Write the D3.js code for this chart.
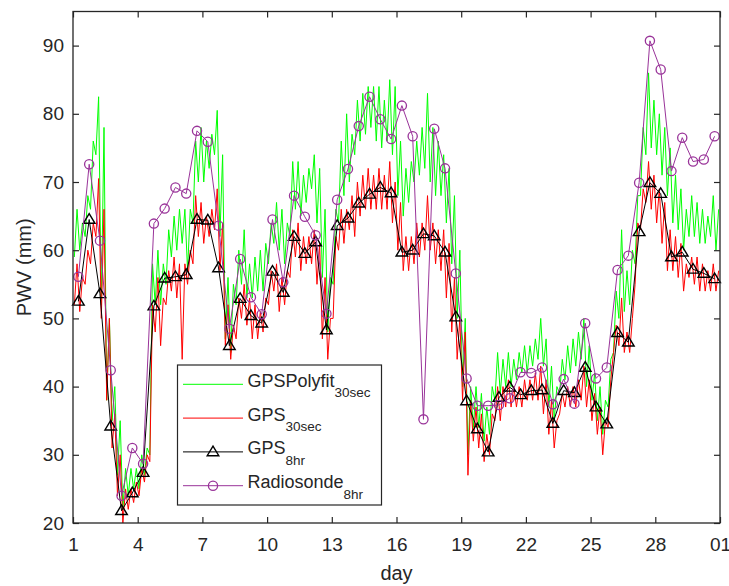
<!DOCTYPE html>
<html>
<head>
<meta charset="utf-8">
<script src="https://cdn.jsdelivr.net/npm/d3@7"></script>
<style>
  body { margin: 0; background: #fff; }
  text { font-family: "Liberation Sans", Arial, sans-serif; fill: #262626; }
</style>
</head>
<body>
<div id="chart"></div>
<script>
// x ticks (day of month, last one is the 1st of next month)
const xTicks = [1, 4, 7, 10, 13, 16, 19, 22, 25, 28, 31];
const yTicks = [20, 30, 40, 50, 60, 70, 80, 90];

// 8-hourly products, one value every half day starting at day 1.25
const gps8hr = [
  52.5, 64.5, 53.6, 34.2, 21.8, 24.4, 27.4, 51.8, 55.9, 56.1, 56.4, 64.5,
  64.4, 57.4, 46.0, 52.9, 50.4, 49.3, 56.9, 53.8, 62.0, 59.5, 61.2, 48.3,
  63.6, 64.7, 66.9, 68.2, 69.2, 68.4, 59.7, 60.0, 62.4, 62.1, 59.7, 50.2,
  37.9, 33.8, 30.4, 38.4, 39.9, 38.8, 39.4, 39.5, 34.6, 39.4, 39.1, 42.8,
  37.0, 34.5, 47.9, 46.5, 62.7, 69.9, 68.3, 59.0, 59.7, 57.2, 56.6, 55.8
];
const radiosonde8hr = [
  56.1, 72.6, 61.4, 42.4, 24.0, 31.0, 28.7, 63.9, 66.1, 69.2, 68.3, 77.5,
  75.9, 63.6, 48.5, 58.7, 53.1, 50.6, 64.5, 55.3, 68.0, 64.9, 62.2, 50.7,
  67.4, 71.9, 78.2, 82.5, 79.2, 76.3, 81.2, 76.7, 35.2, 77.8, 72.0, 56.6,
  41.2, 37.2, 37.2, 37.3, 38.3, 42.1, 42.0, 42.8, 37.4, 41.1, 37.5, 49.3,
  41.2, 42.8, 57.1, 59.2, 69.9, 90.7, 86.5, 71.6, 76.5, 73.0, 73.3, 76.7
];
const times8hr = d3.range(gps8hr.length).map(i => 1.25 + 0.5 * i);

// 30 sec series, summarised as low/high per quarter day (4 bins per day)
const polyfitLo = [
  59, 60, 62, 66,  74, 52, 38, 35,  27, 22, 24, 25,  25, 27, 30, 52,
  52, 55, 59, 60,  61, 57, 64, 70,  70, 72, 74, 62,  47, 45, 52, 55,
  53, 53, 54, 54,  58, 61, 60, 58,  62, 66, 65, 67,  69, 64, 56, 48,
  55, 64, 68, 70,  74, 76, 77, 78,  76, 75, 76, 74,  68, 65, 67, 70,
  71, 72, 70, 68,  68, 64, 58, 50,  40, 30, 34, 34,  32, 33, 38, 39,
  40, 40, 41, 42,  42, 43, 44, 43,  37, 35, 39, 41,  42, 43, 44, 40,
  38, 35, 33, 37,  45, 50, 51, 52,  58, 68, 74, 75,  74, 71, 68, 64,
  63, 60, 62, 62,  61, 61, 62, 60
];
const polyfitHi = [
  66, 64, 68, 76,  82.5, 78, 50, 40,  35, 28, 28, 28,  30, 31, 58, 60,
  58, 63, 65, 66,  66, 66, 76, 78,  76, 77, 80.5, 74,  56, 55, 60, 63,
  58, 59, 60, 61,  64, 67, 66, 64,  73, 73, 71, 72,  74, 72, 66, 56,
  66, 76, 80, 77,  82, 83, 84, 84,  84, 82, 85, 84,  76, 72, 73, 76,
  78, 83, 78, 76,  74, 72, 68, 60,  50, 40, 40, 39,  37, 40, 45, 44,
  45, 44, 45, 46,  46, 47, 50, 47,  43, 40, 44, 46,  47, 48, 50, 46,
  42, 40, 38, 44,  54, 63, 57, 60,  68, 78, 86, 82,  80, 78, 75, 71,
  69, 66, 68, 67,  66, 65, 68, 66
];
const gps30Lo = [
  52, 51, 55, 58,  62, 50, 38, 31,  24, 20, 22, 23,  24, 26, 29, 48,
  46, 52, 54, 53,  44, 55, 58, 62,  61, 62, 63, 57,  46, 44, 47, 50,
  49, 47, 47, 48,  52, 54, 51, 52,  56, 59, 57, 58,  58, 55, 47, 44,
  50, 60, 61, 63,  62, 65, 66, 66,  66, 66, 66, 64,  60, 57, 57, 58,
  59, 60, 60, 58,  57, 53, 48, 44,  38, 27, 32, 31,  29, 30, 35, 35,
  37, 37, 37, 37,  38, 38, 38, 36,  33, 31, 36, 37,  37, 37, 38, 37,
  35, 33, 30, 34,  45, 46, 45, 45,  55, 63, 67, 66,  64, 61, 57, 57,
  56, 54, 56, 55,  54, 54, 54, 54
];
const gps30Hi = [
  58, 56, 60, 64,  70.5, 66, 50, 36,  30, 25, 25, 26,  28, 30, 52, 56,
  53, 57, 59, 58,  58, 60, 68, 67,  65, 66, 69, 64,  52, 49, 53, 55,
  53, 52, 51, 53,  57, 58, 56, 57,  63, 64, 62, 62,  63, 61, 56, 50,
  62, 66, 66, 68,  70, 71, 72, 71,  72, 71, 73, 70,  67, 62, 62, 64,
  64, 68, 64, 63,  63, 61, 56, 50,  48, 38, 37, 36,  33, 36, 40, 40,
  41, 40, 40, 41,  41, 42, 43, 41,  38, 35, 39, 40,  40, 41, 43, 41,
  39, 37, 35, 41,  49, 53, 48, 50,  64, 69, 73, 71,  69, 67, 63, 62,
  61, 58, 59, 59,  58, 57, 58, 57
];

const width = 729, height = 586;
const margin = { left: 73, right: 9, top: 11.5, bottom: 63 };

const svg = d3.select("#chart")
  .append("svg")
    .attr("width", width)
    .attr("height", height);

const x = d3.scaleLinear().domain([1, 31]).range([margin.left, width - margin.right]);
const y = d3.scaleLinear().domain([20, 95]).range([height - margin.bottom, margin.top]);

// turn the low/high bins into a jagged line
function binsToPoints(lo, hi) {
  const pts = [];
  for (let i = 0; i < lo.length; i++) {
    const t = 1 + 0.25 * i;
    pts.push([t + 0.0625, lo[i]]);
    pts.push([t + 0.1875, hi[i]]);
  }
  return pts;
}

const line = d3.line().x(d => x(d[0])).y(d => y(d[1]));

const plot = svg.append("g");

plot.append("path")
  .datum(binsToPoints(polyfitLo, polyfitHi))
  .attr("fill", "none")
  .attr("stroke", "#00ff00")
  .attr("stroke-width", 1)
  .attr("d", line);

plot.append("path")
  .datum(binsToPoints(gps30Lo, gps30Hi))
  .attr("fill", "none")
  .attr("stroke", "#ff0000")
  .attr("stroke-width", 1)
  .attr("d", line);

const gpsPts = times8hr.map((t, i) => [t, gps8hr[i]]);
const sondePts = times8hr.map((t, i) => [t, radiosonde8hr[i]]);

const triPath = "M0,-5.8L5.8,3.8L-5.8,3.8Z";

plot.append("path")
  .datum(gpsPts)
  .attr("fill", "none")
  .attr("stroke", "#000")
  .attr("stroke-width", 1)
  .attr("d", line);

plot.selectAll(".tri")
  .data(gpsPts)
  .join("path")
    .attr("class", "tri")
    .attr("transform", d => `translate(${x(d[0])},${y(d[1])})`)
    .attr("d", triPath)
    .attr("fill", "none")
    .attr("stroke", "#000")
    .attr("stroke-width", 1.4);

plot.append("path")
  .datum(sondePts)
  .attr("fill", "none")
  .attr("stroke", "#993399")
  .attr("stroke-width", 1)
  .attr("d", line);

plot.selectAll(".circ")
  .data(sondePts)
  .join("circle")
    .attr("class", "circ")
    .attr("cx", d => x(d[0]))
    .attr("cy", d => y(d[1]))
    .attr("r", 4.6)
    .attr("fill", "none")
    .attr("stroke", "#993399")
    .attr("stroke-width", 1.3);

// axes, matlab style: ticks inside on all four sides
const fontSize = "19px";
const xFmt = d => d === 31 ? "01" : d;

const xAxis = svg.append("g")
  .attr("transform", `translate(0,${y(20)})`)
  .call(d3.axisBottom(x).tickValues(xTicks).tickFormat(xFmt).tickSizeInner(-6).tickSizeOuter(0).tickPadding(15));
const xAxisTop = svg.append("g")
  .attr("transform", `translate(0,${y(95)})`)
  .call(d3.axisTop(x).tickValues(xTicks).tickFormat("").tickSizeInner(-6).tickSizeOuter(0));
const yAxis = svg.append("g")
  .attr("transform", `translate(${x(1)},0)`)
  .call(d3.axisLeft(y).tickValues(yTicks).tickSizeInner(-6).tickSizeOuter(0).tickPadding(9));
const yAxisRight = svg.append("g")
  .attr("transform", `translate(${x(31)},0)`)
  .call(d3.axisRight(y).tickValues(yTicks).tickFormat("").tickSizeInner(-6).tickSizeOuter(0));

[xAxis, xAxisTop, yAxis, yAxisRight].forEach(g => {
  g.select(".domain").remove();
  g.selectAll(".tick line").attr("stroke", "#262626").attr("stroke-width", 1.2);
  g.selectAll(".tick text")
    .attr("fill", "#262626")
    .style("font-size", fontSize)
    .style("font-family", "'Liberation Sans', Arial, sans-serif");
});

svg.append("rect")
  .attr("x", x(1))
  .attr("y", y(95))
  .attr("width", x(31) - x(1))
  .attr("height", y(20) - y(95))
  .attr("fill", "none")
  .attr("stroke", "#262626")
  .attr("stroke-width", 1.3);

svg.append("text")
  .attr("x", (x(1) + x(31)) / 2)
  .attr("y", 580)
  .attr("text-anchor", "middle")
  .style("font-size", "20px")
  .text("day");

svg.append("text")
  .attr("transform", `translate(31,${(y(20) + y(95)) / 2}) rotate(-90)`)
  .attr("text-anchor", "middle")
  .style("font-size", "20px")
  .text("PWV (mm)");

// legend
const legendNames = ["GPSPolyfit", "GPS", "GPS", "Radiosonde"];
const legendSubs = ["30sec", "30sec", "8hr", "8hr"];
const legendColors = ["#00ff00", "#ff0000", "#000000", "#993399"];
const legendMarkers = ["none", "none", "tri", "circ"];

const legend = svg.append("g");
legend.append("rect")
  .attr("x", 177.5)
  .attr("y", 365)
  .attr("width", 204)
  .attr("height", 140)
  .attr("fill", "#fff")
  .attr("stroke", "#262626")
  .attr("stroke-width", 1.2);

legendNames.forEach((name, i) => {
  const ly = 384.3 + i * 33.8;
  legend.append("line")
    .attr("x1", 183).attr("x2", 243)
    .attr("y1", ly).attr("y2", ly)
    .attr("stroke", legendColors[i])
    .attr("stroke-width", 1);
  if (legendMarkers[i] === "tri") {
    legend.append("path")
      .attr("transform", `translate(213,${ly})`)
      .attr("d", triPath)
      .attr("fill", "none")
      .attr("stroke", legendColors[i])
      .attr("stroke-width", 1.4);
  } else if (legendMarkers[i] === "circ") {
    legend.append("circle")
      .attr("cx", 213).attr("cy", ly).attr("r", 4.6)
      .attr("fill", "none")
      .attr("stroke", legendColors[i])
      .attr("stroke-width", 1.3);
  }
  const t = legend.append("text")
    .attr("x", 247.5)
    .attr("y", ly + 2.5)
    .style("font-size", "18px");
  t.append("tspan").text(name);
  t.append("tspan")
    .attr("dy", 10.5)
    .style("font-size", "13.5px")
    .text(legendSubs[i]);
});
</script>
</body>
</html>
